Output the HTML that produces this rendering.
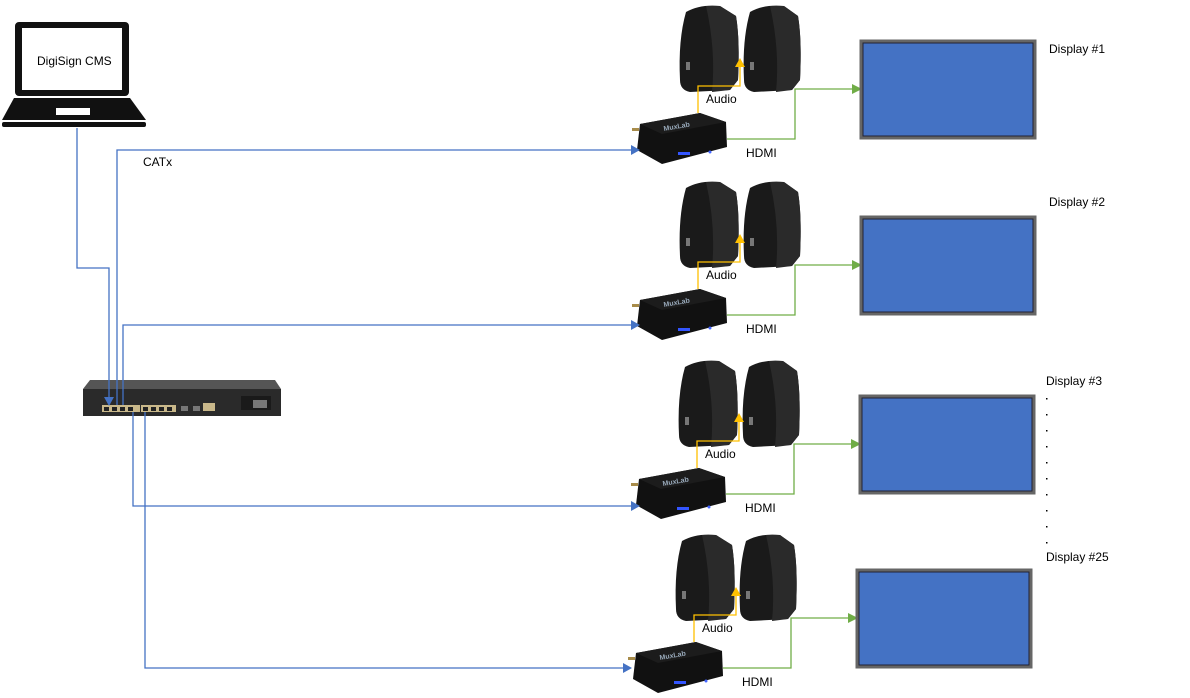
<!DOCTYPE html>
<html><head><meta charset="utf-8"><style>
html,body{margin:0;padding:0;background:#fff;width:1190px;height:698px;overflow:hidden;}
svg{display:block;font-family:"Liberation Sans",sans-serif;}
</style></head><body>
<svg width="1190" height="698" viewBox="0 0 1190 698" xmlns="http://www.w3.org/2000/svg">
<g transform="translate(0,0)">
  <path d="M686,12 Q700,4 720,6 L736,16 Q740,40 738,80 L730,90 L690,92 Q680,90 680,80 Q678,40 686,12 z" fill="#1a1a1a"/>
  <path d="M706,6 L720,6 L736,16 Q740,40 738,80 L730,90 L712,92 Q716,50 706,6z" fill="#2a2a2a"/>
  <rect x="686" y="62" width="4" height="8" fill="#777"/>
  <path d="M750,12 Q764,4 784,6 L798,16 Q802,40 800,80 L792,90 L754,92 Q744,90 744,80 Q742,40 750,12 z" fill="#1a1a1a"/>
  <path d="M770,6 L784,6 L798,16 Q802,40 800,80 L792,90 L776,92 Q780,50 770,6z" fill="#2a2a2a"/>
  <rect x="750" y="62" width="4" height="8" fill="#777"/>
  <polyline points="698,113 698,86 740,86 740,66" fill="none" stroke="#ffc000" stroke-width="1.3"/>
  <polygon points="735,67 745,67 740,58" fill="#ffc000"/>
  <text x="706" y="103" font-size="12" fill="#000">Audio</text>
  <path d="M640,124 L700,113 L726,122 L727,147 L662,164 L637,150 z" fill="#111"/>
  <path d="M640,124 L700,113 L726,122 L662,134 z" fill="#1c1c1c"/>
  <text x="664" y="131" font-size="7" font-weight="bold" fill="#9ab" transform="rotate(-10 664 131)">MuxLab</text>
  <rect x="678" y="152" width="12" height="3" fill="#3355ff"/>
  <circle cx="710" cy="152" r="1.5" fill="#46f"/>
  <rect x="632" y="128" width="7" height="3" fill="#a88c4a"/>
  <polyline points="727,139 795,139 795,89 853,89" fill="none" stroke="#70ad47" stroke-width="1.3"/>
  <polygon points="852,84 862,89 852,94" fill="#70ad47"/>
  <text x="746" y="157" font-size="12" fill="#000">HDMI</text>
  <rect x="861" y="41" width="174" height="97" fill="#4472c4" stroke="#666" stroke-width="3"/>
  <rect x="863" y="43" width="170" height="93" fill="none" stroke="#223" stroke-width="1"/>
</g>
<g transform="translate(0,176)">
  <path d="M686,12 Q700,4 720,6 L736,16 Q740,40 738,80 L730,90 L690,92 Q680,90 680,80 Q678,40 686,12 z" fill="#1a1a1a"/>
  <path d="M706,6 L720,6 L736,16 Q740,40 738,80 L730,90 L712,92 Q716,50 706,6z" fill="#2a2a2a"/>
  <rect x="686" y="62" width="4" height="8" fill="#777"/>
  <path d="M750,12 Q764,4 784,6 L798,16 Q802,40 800,80 L792,90 L754,92 Q744,90 744,80 Q742,40 750,12 z" fill="#1a1a1a"/>
  <path d="M770,6 L784,6 L798,16 Q802,40 800,80 L792,90 L776,92 Q780,50 770,6z" fill="#2a2a2a"/>
  <rect x="750" y="62" width="4" height="8" fill="#777"/>
  <polyline points="698,113 698,86 740,86 740,66" fill="none" stroke="#ffc000" stroke-width="1.3"/>
  <polygon points="735,67 745,67 740,58" fill="#ffc000"/>
  <text x="706" y="103" font-size="12" fill="#000">Audio</text>
  <path d="M640,124 L700,113 L726,122 L727,147 L662,164 L637,150 z" fill="#111"/>
  <path d="M640,124 L700,113 L726,122 L662,134 z" fill="#1c1c1c"/>
  <text x="664" y="131" font-size="7" font-weight="bold" fill="#9ab" transform="rotate(-10 664 131)">MuxLab</text>
  <rect x="678" y="152" width="12" height="3" fill="#3355ff"/>
  <circle cx="710" cy="152" r="1.5" fill="#46f"/>
  <rect x="632" y="128" width="7" height="3" fill="#a88c4a"/>
  <polyline points="727,139 795,139 795,89 853,89" fill="none" stroke="#70ad47" stroke-width="1.3"/>
  <polygon points="852,84 862,89 852,94" fill="#70ad47"/>
  <text x="746" y="157" font-size="12" fill="#000">HDMI</text>
  <rect x="861" y="41" width="174" height="97" fill="#4472c4" stroke="#666" stroke-width="3"/>
  <rect x="863" y="43" width="170" height="93" fill="none" stroke="#223" stroke-width="1"/>
</g>
<g transform="translate(-1,355)">
  <path d="M686,12 Q700,4 720,6 L736,16 Q740,40 738,80 L730,90 L690,92 Q680,90 680,80 Q678,40 686,12 z" fill="#1a1a1a"/>
  <path d="M706,6 L720,6 L736,16 Q740,40 738,80 L730,90 L712,92 Q716,50 706,6z" fill="#2a2a2a"/>
  <rect x="686" y="62" width="4" height="8" fill="#777"/>
  <path d="M750,12 Q764,4 784,6 L798,16 Q802,40 800,80 L792,90 L754,92 Q744,90 744,80 Q742,40 750,12 z" fill="#1a1a1a"/>
  <path d="M770,6 L784,6 L798,16 Q802,40 800,80 L792,90 L776,92 Q780,50 770,6z" fill="#2a2a2a"/>
  <rect x="750" y="62" width="4" height="8" fill="#777"/>
  <polyline points="698,113 698,86 740,86 740,66" fill="none" stroke="#ffc000" stroke-width="1.3"/>
  <polygon points="735,67 745,67 740,58" fill="#ffc000"/>
  <text x="706" y="103" font-size="12" fill="#000">Audio</text>
  <path d="M640,124 L700,113 L726,122 L727,147 L662,164 L637,150 z" fill="#111"/>
  <path d="M640,124 L700,113 L726,122 L662,134 z" fill="#1c1c1c"/>
  <text x="664" y="131" font-size="7" font-weight="bold" fill="#9ab" transform="rotate(-10 664 131)">MuxLab</text>
  <rect x="678" y="152" width="12" height="3" fill="#3355ff"/>
  <circle cx="710" cy="152" r="1.5" fill="#46f"/>
  <rect x="632" y="128" width="7" height="3" fill="#a88c4a"/>
  <polyline points="727,139 795,139 795,89 853,89" fill="none" stroke="#70ad47" stroke-width="1.3"/>
  <polygon points="852,84 862,89 852,94" fill="#70ad47"/>
  <text x="746" y="157" font-size="12" fill="#000">HDMI</text>
  <rect x="861" y="41" width="174" height="97" fill="#4472c4" stroke="#666" stroke-width="3"/>
  <rect x="863" y="43" width="170" height="93" fill="none" stroke="#223" stroke-width="1"/>
</g>
<g transform="translate(-4,529)">
  <path d="M686,12 Q700,4 720,6 L736,16 Q740,40 738,80 L730,90 L690,92 Q680,90 680,80 Q678,40 686,12 z" fill="#1a1a1a"/>
  <path d="M706,6 L720,6 L736,16 Q740,40 738,80 L730,90 L712,92 Q716,50 706,6z" fill="#2a2a2a"/>
  <rect x="686" y="62" width="4" height="8" fill="#777"/>
  <path d="M750,12 Q764,4 784,6 L798,16 Q802,40 800,80 L792,90 L754,92 Q744,90 744,80 Q742,40 750,12 z" fill="#1a1a1a"/>
  <path d="M770,6 L784,6 L798,16 Q802,40 800,80 L792,90 L776,92 Q780,50 770,6z" fill="#2a2a2a"/>
  <rect x="750" y="62" width="4" height="8" fill="#777"/>
  <polyline points="698,113 698,86 740,86 740,66" fill="none" stroke="#ffc000" stroke-width="1.3"/>
  <polygon points="735,67 745,67 740,58" fill="#ffc000"/>
  <text x="706" y="103" font-size="12" fill="#000">Audio</text>
  <path d="M640,124 L700,113 L726,122 L727,147 L662,164 L637,150 z" fill="#111"/>
  <path d="M640,124 L700,113 L726,122 L662,134 z" fill="#1c1c1c"/>
  <text x="664" y="131" font-size="7" font-weight="bold" fill="#9ab" transform="rotate(-10 664 131)">MuxLab</text>
  <rect x="678" y="152" width="12" height="3" fill="#3355ff"/>
  <circle cx="710" cy="152" r="1.5" fill="#46f"/>
  <rect x="632" y="128" width="7" height="3" fill="#a88c4a"/>
  <polyline points="727,139 795,139 795,89 853,89" fill="none" stroke="#70ad47" stroke-width="1.3"/>
  <polygon points="852,84 862,89 852,94" fill="#70ad47"/>
  <text x="746" y="157" font-size="12" fill="#000">HDMI</text>
  <rect x="861" y="41" width="174" height="97" fill="#4472c4" stroke="#666" stroke-width="3"/>
  <rect x="863" y="43" width="170" height="93" fill="none" stroke="#223" stroke-width="1"/>
</g>

<g font-size="12" fill="#000">
<text x="1049" y="53">Display #1</text>
<text x="1049" y="206">Display #2</text>
<text x="1046" y="385">Display #3</text>
<text x="1046" y="561">Display #25</text>
</g>
<g fill="#000">
<rect x="1046" y="398" width="1.5" height="1.5"/><rect x="1046" y="414" width="1.5" height="1.5"/>
<rect x="1046" y="430" width="1.5" height="1.5"/><rect x="1046" y="446" width="1.5" height="1.5"/>
<rect x="1046" y="462" width="1.5" height="1.5"/><rect x="1046" y="478" width="1.5" height="1.5"/>
<rect x="1046" y="494" width="1.5" height="1.5"/><rect x="1046" y="510" width="1.5" height="1.5"/>
<rect x="1046" y="526" width="1.5" height="1.5"/><rect x="1046" y="542" width="1.5" height="1.5"/>
</g>

<rect x="15" y="22" width="114" height="74" rx="4" fill="#111"/>
<rect x="22" y="28" width="100" height="62" fill="#fff"/>
<text x="37" y="65" font-size="12" fill="#000">DigiSign CMS</text>
<path d="M14,98 L130,98 L146,120 L2,120 z" fill="#111"/>
<rect x="56" y="108" width="34" height="7" fill="#fff"/>
<rect x="2" y="122" width="144" height="5" rx="2" fill="#111"/>
<text x="143" y="166" font-size="12" fill="#000">CATx</text>

<path d="M90,380 L275,380 L281,389 L83,389 z" fill="#555"/>
<rect x="83" y="389" width="198" height="27" fill="#2a2a2a"/>
<g fill="#c9b88a">
<rect x="102" y="405" width="38" height="7"/><rect x="141" y="405" width="35" height="7"/>
<rect x="203" y="403" width="12" height="8"/>
</g>
<g fill="#222"><rect x="104" y="407" width="5" height="4"/><rect x="112" y="407" width="5" height="4"/><rect x="120" y="407" width="5" height="4"/><rect x="128" y="407" width="5" height="4"/><rect x="143" y="407" width="5" height="4"/><rect x="151" y="407" width="5" height="4"/><rect x="159" y="407" width="5" height="4"/><rect x="167" y="407" width="5" height="4"/></g>
<rect x="181" y="406" width="7" height="5" fill="#777"/><rect x="193" y="406" width="7" height="5" fill="#777"/>
<rect x="241" y="396" width="30" height="14" fill="#1a1a1a"/><rect x="253" y="400" width="14" height="8" fill="#777"/>

<g fill="none" stroke="#4472c4" stroke-width="1.3">
<polyline points="77,128 77,268 109,268 109,398"/>
<polyline points="117,405 117,150 632,150"/>
<polyline points="123,405 123,325 632,325"/>
<polyline points="133,412 133,506 632,506"/>
<polyline points="145,412 145,668 624,668"/>
</g>
<g fill="#4472c4">
<polygon points="104,397 114,397 109,406"/>
<polygon points="631,145 640,150 631,155"/>
<polygon points="631,320 640,325 631,330"/>
<polygon points="631,501 640,506 631,511"/>
<polygon points="623,663 632,668 623,673"/>
</g>
</svg>
</body></html>
